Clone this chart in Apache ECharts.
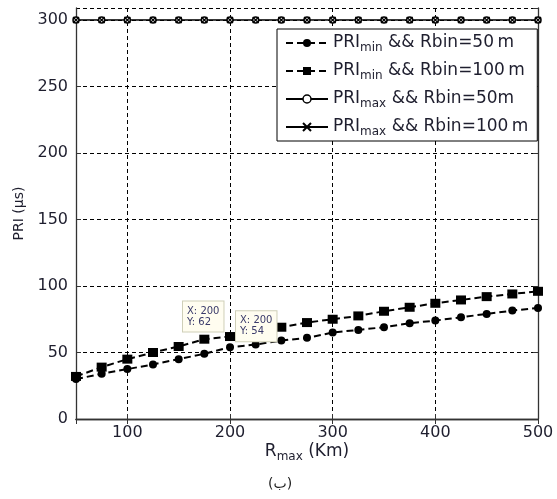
<!DOCTYPE html>
<html>
<head>
<meta charset="utf-8">
<script src="https://cdn.jsdelivr.net/npm/echarts@6/dist/echarts.min.js"></script>
<style>
html,body{margin:0;padding:0;background:#fff;}
#chart{width:557px;height:499px;}
</style>
</head>
<body>
<div id="chart"></div>
<script>
// ---- data ----
var rmax = [50, 75, 100, 125, 150, 175, 200, 225, 250, 275, 300, 325, 350, 375, 400, 425, 450, 475, 500];
var priMin50 = [30, 34, 37.5, 41, 45, 49, 54, 56, 59, 61, 65, 67, 69, 72, 74, 76.5, 79, 81.5, 83.5];
var priMin100 = [32, 39, 45, 50, 54.5, 60, 62, 65.5, 69, 72.5, 75, 77.5, 81, 84, 87, 89.5, 92, 94, 96];
var priMax50 = [300, 300, 300, 300, 300, 300, 300, 300, 300, 300, 300, 300, 300, 300, 300, 300, 300, 300, 300];
var priMax100 = [300, 300, 300, 300, 300, 300, 300, 300, 300, 300, 300, 300, 300, 300, 300, 300, 300, 300, 300];
var seriesNames = ['PRImin50', 'PRImin100', 'PRImax50', 'PRImax100'];
var legendSub = ['min', 'min', 'max', 'max'];
var legendRest = [' && Rbin=50\u2009m', ' && Rbin=100\u2009m', ' && Rbin=50m', ' && Rbin=100\u2009m'];
var yTicks = [0, 50, 100, 150, 200, 250, 300];
var xTicks = [100, 200, 300, 400, 500];
var tipX = 200;
var tipYUpper = 62;
var tipYLower = 54;
var caption = '(\u0628)';

function pairs(xs, ys) { return xs.map(function (x, i) { return [x, ys[i]]; }); }

var FONT = 'DejaVu Sans';
var chart = echarts.init(document.getElementById('chart'), null, {renderer: 'canvas'});

var gridDash = {color: '#000', width: 1, type: [4, 3]};
var crossPath = 'path://M0,0L10,10M10,0L0,10';

var tipLabel = function (txt, off) {
  return {
    show: true, position: 'inside', offset: off,
    formatter: txt, fontFamily: FONT, fontSize: 10, lineHeight: 11,
    color: '#3a3a6a', align: 'left',
    backgroundColor: '#fffdf0', borderColor: '#cfcfb8', borderWidth: 1,
    padding: [4, 4, 4, 4]
  };
};

var option = {
  animation: false,
  backgroundColor: '#fff',
  grid: {left: 76, right: 19, top: 8, bottom: 80},
  xAxis: [{
    type: 'value', min: 50, max: 500, splitNumber: 5,
    axisLine: {show: true, lineStyle: {color: '#333', width: 1.3}},
    axisTick: {show: true, inside: true, length: 5, lineStyle: {color: '#333'}},
    axisLabel: {
      showMinLabel: false, margin: 6, fontFamily: FONT, fontSize: 16, color: '#1e1e2e',
      formatter: function (v) { return xTicks.indexOf(v) >= 0 ? String(v) : ''; }
    },
    splitLine: {show: true, lineStyle: gridDash},
    name: '{m|R}{s|max}{m| (Km)}', nameLocation: 'middle', nameGap: 23,
    nameMoveOverlap: false,
    nameTextStyle: {
      rich: {
        m: {fontFamily: FONT, fontSize: 17, color: '#1e1e2e', lineHeight: 20},
        s: {fontFamily: FONT, fontSize: 12, color: '#1e1e2e', lineHeight: 10, padding: [10, 0, 0, 0]}
      }
    }
  }, {
    type: 'value', position: 'top', min: 50, max: 500, splitNumber: 5,
    axisLine: {show: true, lineStyle: {color: '#333', width: 1.3}},
    axisTick: {show: true, inside: true, length: 5, lineStyle: {color: '#333'}},
    axisLabel: {show: false}, splitLine: {show: false}
  }],
  yAxis: [{
    type: 'value', min: 0, max: 309, interval: 50,
    axisLine: {show: true, lineStyle: {color: '#333', width: 1.3}},
    axisTick: {show: true, inside: true, length: 5, lineStyle: {color: '#333'}},
    axisLabel: {
      showMaxLabel: false, margin: 8, fontFamily: FONT, fontSize: 16, color: '#1e1e2e',
      formatter: function (v) { return yTicks.indexOf(v) >= 0 ? String(v) : ''; }
    },
    splitLine: {show: true, lineStyle: gridDash},
    name: 'PRI (\u00b5s)', nameLocation: 'middle', nameGap: 46,
    nameTextStyle: {fontFamily: FONT, fontSize: 14, color: '#1e1e2e'}
  }, {
    type: 'value', position: 'right', min: 0, max: 309, interval: 50,
    axisLine: {show: true, lineStyle: {color: '#333', width: 1.3}},
    axisTick: {show: true, inside: true, length: 5, lineStyle: {color: '#333'}},
    axisLabel: {show: false}, splitLine: {show: false}
  }],
  legend: {
    orient: 'vertical', left: 277, top: 29,
    padding: [3, 9, 3, 8], itemGap: 6, itemWidth: 42, itemHeight: 10,
    borderColor: '#000', borderWidth: 1, backgroundColor: '#fff',
    data: [
      {name: seriesNames[0]},
      {name: seriesNames[1]},
      {name: seriesNames[2], itemStyle: {color: '#fff', borderColor: '#000', borderWidth: 1.5}},
      {name: seriesNames[3]}
    ],
    formatter: function (name) {
      var i = seriesNames.indexOf(name);
      return '{a|PRI}{s|' + legendSub[i] + '}{a|' + legendRest[i] + '}';
    },
    textStyle: {
      rich: {
        a: {fontFamily: FONT, fontSize: 17, color: '#1e1e2e', lineHeight: 20},
        s: {fontFamily: FONT, fontSize: 12, color: '#1e1e2e', lineHeight: 10, padding: [10, 0, 0, 0]}
      }
    }
  },
  series: [{
    name: seriesNames[0], type: 'line', data: pairs(rmax, priMin50),
    symbol: 'circle', symbolSize: 8,
    lineStyle: {color: '#000', width: 2, type: [7, 4]},
    itemStyle: {color: '#000'},
    markPoint: {
      symbol: 'rect', symbolSize: 1, itemStyle: {color: 'rgba(0,0,0,0)'},
      data: [{coord: [tipX, tipYLower], label: tipLabel('X: ' + tipX + '\nY: ' + tipYLower, [6, -21])}]
    }
  }, {
    name: seriesNames[1], type: 'line', data: pairs(rmax, priMin100),
    symbol: 'rect', symbolSize: [10, 9],
    lineStyle: {color: '#000', width: 2, type: [7, 4]},
    itemStyle: {color: '#000'},
    markPoint: {
      symbol: 'rect', symbolSize: 1, itemStyle: {color: 'rgba(0,0,0,0)'},
      data: [{coord: [tipX, tipYUpper], label: tipLabel('X: ' + tipX + '\nY: ' + tipYUpper, [-47, -20])}]
    }
  }, {
    name: seriesNames[2], type: 'line', data: pairs(rmax, priMax50),
    symbol: 'circle', symbolSize: 6,
    lineStyle: {color: '#000', width: 1},
    itemStyle: {color: '#fff', borderColor: '#000', borderWidth: 1.5}
  }, {
    name: seriesNames[3], type: 'line', data: pairs(rmax, priMax100),
    symbol: crossPath, symbolSize: 6,
    lineStyle: {color: '#000', width: 1},
    itemStyle: {color: '#000', borderColor: '#000', borderWidth: 1.2}
  }],
  graphic: [{
    type: 'text', left: 268, top: 477,
    style: {text: caption, fontFamily: FONT, fontSize: 14, fill: '#222'}
  }]
};
chart.setOption(option);
</script>
</body>
</html>
